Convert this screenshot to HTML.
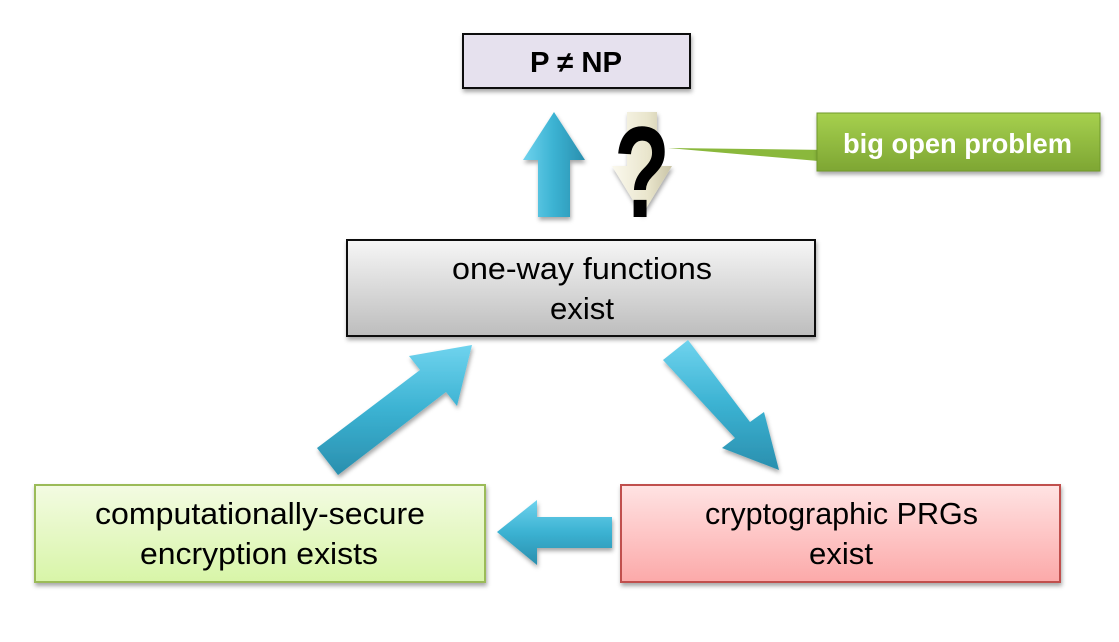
<!DOCTYPE html>
<html><head><meta charset="utf-8"><style>
html,body{margin:0;padding:0;background:#fff;}
svg{display:block;}
text{font-family:"Liberation Sans",sans-serif;}
</style></head><body>
<svg width="1119" height="642" viewBox="0 0 1119 642" xmlns="http://www.w3.org/2000/svg">
<defs>
<linearGradient id="gray" x1="0" y1="0" x2="0" y2="1"><stop offset="0" stop-color="#f6f6f6"/><stop offset="1" stop-color="#bdbdbd"/></linearGradient>
<linearGradient id="green" x1="0" y1="0" x2="0" y2="1"><stop offset="0" stop-color="#f3fbe2"/><stop offset="1" stop-color="#d8f5a8"/></linearGradient>
<linearGradient id="red" x1="0" y1="0" x2="0" y2="1"><stop offset="0" stop-color="#ffe3e3"/><stop offset="1" stop-color="#fca9a9"/></linearGradient>
<linearGradient id="call" x1="0" y1="0" x2="0" y2="1"><stop offset="0" stop-color="#a6d04e"/><stop offset="1" stop-color="#7ea633"/></linearGradient>
<linearGradient id="blueH" x1="0" y1="0" x2="1" y2="0"><stop offset="0" stop-color="#6fd3ee"/><stop offset="0.5" stop-color="#3bb2d2"/><stop offset="1" stop-color="#2a8fae"/></linearGradient>
<linearGradient id="blueV" x1="0" y1="0" x2="0" y2="1"><stop offset="0" stop-color="#6fd3ee"/><stop offset="0.5" stop-color="#3bb2d2"/><stop offset="1" stop-color="#2a8fae"/></linearGradient>
<linearGradient id="cream" x1="0" y1="0" x2="1" y2="0"><stop offset="0" stop-color="#fbf9ee"/><stop offset="0.6" stop-color="#e9e5cc"/><stop offset="1" stop-color="#c9c4a6"/></linearGradient>
<filter id="sh" x="-10%" y="-10%" width="120%" height="130%"><feDropShadow dx="1" dy="3" stdDeviation="2" flood-opacity="0.35"/></filter>
</defs>

<rect x="463" y="34" width="227" height="54" fill="#e6e1ee" stroke="#111" stroke-width="2" filter="url(#sh)"/>
<text x="530" y="72" font-size="29" font-weight="bold" fill="#000" textLength="92" lengthAdjust="spacingAndGlyphs">P ≠ NP</text>

<polygon points="554,112 585,160 570,160 570,217 538,217 538,160 523,160" fill="url(#blueH)" filter="url(#sh)"/>
<polygon points="627,112 657,112 657,166 672,166 642,215 612,166 627,166" fill="url(#cream)" filter="url(#sh)"/>
<text x="614" y="217" font-size="130" font-weight="bold" fill="#000" textLength="56" lengthAdjust="spacingAndGlyphs">?</text>

<polygon points="668,148 830,150 830,162" fill="#8ab83c"/>
<rect x="817" y="113" width="283" height="58" fill="url(#call)" stroke="#6f9a2a" stroke-width="1" filter="url(#sh)"/>
<text x="843" y="153" font-size="28" font-weight="bold" fill="#fff" textLength="229" lengthAdjust="spacingAndGlyphs">big open problem</text>

<rect x="347" y="240" width="468" height="96" fill="url(#gray)" stroke="#111" stroke-width="2" filter="url(#sh)"/>
<text x="452" y="279" font-size="31" fill="#000" textLength="260" lengthAdjust="spacingAndGlyphs">one-way functions</text>
<text x="550" y="319" font-size="31" fill="#000" textLength="64" lengthAdjust="spacingAndGlyphs">exist</text>

<polygon points="317,448 420,370 409,356 472,345 457,406 446,392 338,475" fill="url(#blueV)" filter="url(#sh)"/>
<polygon points="663,360 688,340 750,422 764,412 779,470 722,448 735,438" fill="url(#blueV)" filter="url(#sh)"/>

<polygon points="497,532 537,500 537,517 612,517 612,548 537,548 537,565" fill="url(#blueV)" filter="url(#sh)"/>

<rect x="35" y="485" width="450" height="97" fill="url(#green)" stroke="#9bbb59" stroke-width="2" filter="url(#sh)"/>
<text x="95" y="524" font-size="31" fill="#000" textLength="330" lengthAdjust="spacingAndGlyphs">computationally-secure</text>
<text x="140" y="564" font-size="31" fill="#000" textLength="238" lengthAdjust="spacingAndGlyphs">encryption exists</text>

<rect x="621" y="485" width="439" height="97" fill="url(#red)" stroke="#c0504d" stroke-width="2" filter="url(#sh)"/>
<text x="705" y="524" font-size="31" fill="#000" textLength="273" lengthAdjust="spacingAndGlyphs">cryptographic PRGs</text>
<text x="809" y="564" font-size="31" fill="#000" textLength="64" lengthAdjust="spacingAndGlyphs">exist</text>
</svg>
</body></html>
